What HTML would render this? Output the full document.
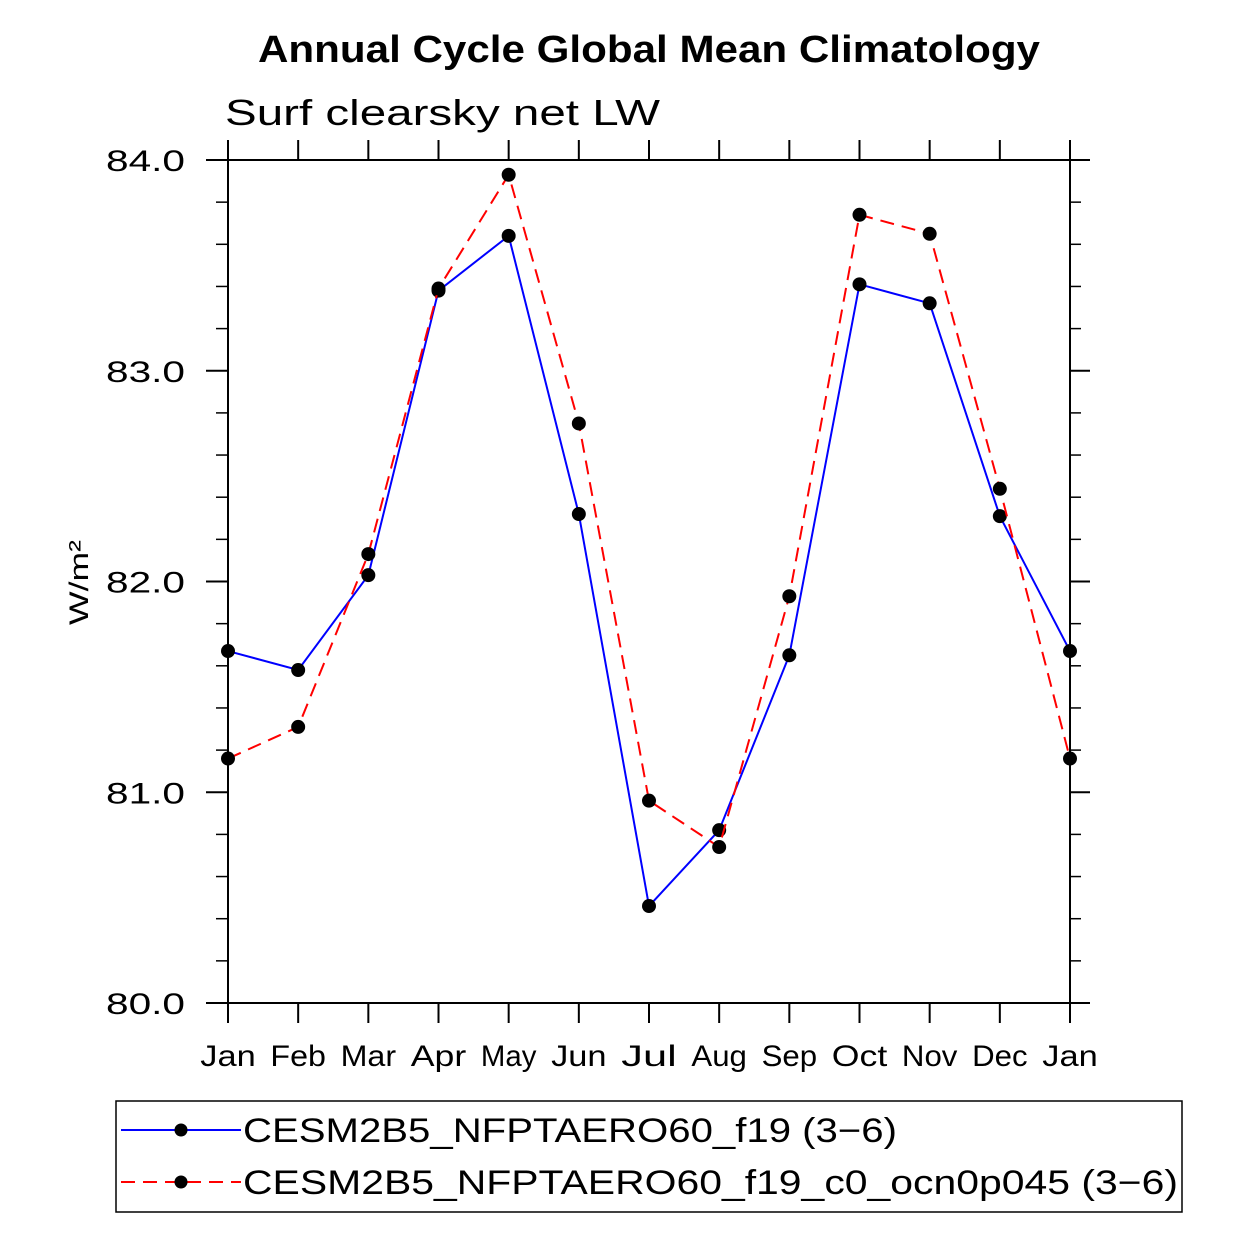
<!DOCTYPE html>
<html><head><meta charset="utf-8"><style>
html,body{margin:0;padding:0;background:#fff;}
svg text{font-family:"Liberation Sans",sans-serif;}
</style></head><body>
<svg id="chart" width="1242" height="1242" viewBox="0 0 1242 1242" xmlns="http://www.w3.org/2000/svg">
<text x="258" y="62" font-size="38" font-weight="bold" textLength="782" lengthAdjust="spacingAndGlyphs">Annual Cycle Global Mean Climatology</text>
<text x="225" y="125" font-size="36" textLength="435" lengthAdjust="spacingAndGlyphs">Surf clearsky net LW</text>
<text transform="translate(88,625) rotate(-90)" font-size="27" textLength="85" lengthAdjust="spacingAndGlyphs">W/m²</text>
<g id="axes"></g>
<g id="series"></g>
<g>
<rect x="116" y="1101" width="1066" height="111" fill="none" stroke="#000" stroke-width="1.5"/>
<g>
<line x1="121" y1="1130" x2="241" y2="1130" stroke="#0000ff" stroke-width="2"/>
<circle cx="181" cy="1130" r="6.5" fill="#000"/>
<text x="243" y="1142" font-size="34" textLength="654" lengthAdjust="spacingAndGlyphs">CESM2B5_NFPTAERO60_f19 (3−6)</text>
</g>
<g>
<line x1="121" y1="1182" x2="241" y2="1182" stroke="#ff0000" stroke-width="2" stroke-dasharray="14,8"/>
<circle cx="181" cy="1182" r="6.5" fill="#000"/>
<text x="243" y="1194" font-size="34" textLength="935" lengthAdjust="spacingAndGlyphs">CESM2B5_NFPTAERO60_f19_c0_ocn0p045 (3−6)</text>
</g>
</g>
</svg>
<script>
const months = ["Jan","Feb","Mar","Apr","May","Jun","Jul","Aug","Sep","Oct","Nov","Dec","Jan"];
const blueValues = [81.67,81.58,82.03,83.38,83.64,82.32,80.46,80.82,81.65,83.41,83.32,82.31,81.67];
const redValues = [81.16,81.31,82.13,83.39,83.93,82.75,80.96,80.74,81.93,83.74,83.65,82.44,81.16];
const yTicks = [80,81,82,83,84];
const yTickLabels = ["80.0","81.0","82.0","83.0","84.0"];
const NS="http://www.w3.org/2000/svg";
const L=228,R=1070,T=160,B=1003,yMin=80,yMax=84;
function xs(i){return L+(R-L)*i/(months.length-1);}
function ys(v){return B-(v-yMin)/(yMax-yMin)*(B-T);}
function mk(tag,attrs,parent){const e=document.createElementNS(NS,tag);for(const k in attrs)e.setAttribute(k,attrs[k]);parent.appendChild(e);return e;}
const axes=document.getElementById('axes');
const frame=mk('rect',{x:L,y:T,width:R-L,height:B-T,fill:'none',stroke:'#000','stroke-width':2},axes);


months.forEach((m,i)=>{
  const x=xs(i);
  mk('line',{x1:x,y1:B,x2:x,y2:B+20,stroke:'#000','stroke-width':2},axes);
  mk('line',{x1:x,y1:T,x2:x,y2:T-20,stroke:'#000','stroke-width':2},axes);
  const t=mk('text',{x:x,y:1066,'text-anchor':'middle','font-size':30,textLength:m.length*18.5,lengthAdjust:'spacingAndGlyphs'},axes);
  t.textContent=m;
  
  
});
yTicks.forEach((v,i)=>{
  const y=ys(v);
  mk('line',{x1:L-22,y1:y,x2:L,y2:y,stroke:'#000','stroke-width':2},axes);
  mk('line',{x1:R,y1:y,x2:R+20,y2:y,stroke:'#000','stroke-width':2},axes);
  const t=mk('text',{x:106,y:y+11,'font-size':30,textLength:79,lengthAdjust:'spacingAndGlyphs'},axes);
  t.textContent=yTickLabels[i];
  
  
  if(i<yTicks.length-1){for(let k=1;k<5;k++){const yy=ys(v+k*0.2);
    mk('line',{x1:L-12,y1:yy,x2:L,y2:yy,stroke:'#000','stroke-width':1.5},axes);
    mk('line',{x1:R,y1:yy,x2:R+11,y2:yy,stroke:'#000','stroke-width':1.5},axes);}}
});
const sg=document.getElementById('series');
function draw(vals,color,dash,name){
  const p=mk('polyline',{points:vals.map((v,i)=>xs(i)+','+ys(v)).join(' '),fill:'none',stroke:color,'stroke-width':2,'stroke-dasharray':dash},sg);
  
  
  vals.forEach((v,i)=>{const c=mk('circle',{cx:xs(i),cy:ys(v),r:7,fill:'#000'},sg);
    
    });
}
draw(blueValues,'#0000ff','none','blue-series');
draw(redValues,'#ff0000','14,8','red-series');
</script>
</body></html>
